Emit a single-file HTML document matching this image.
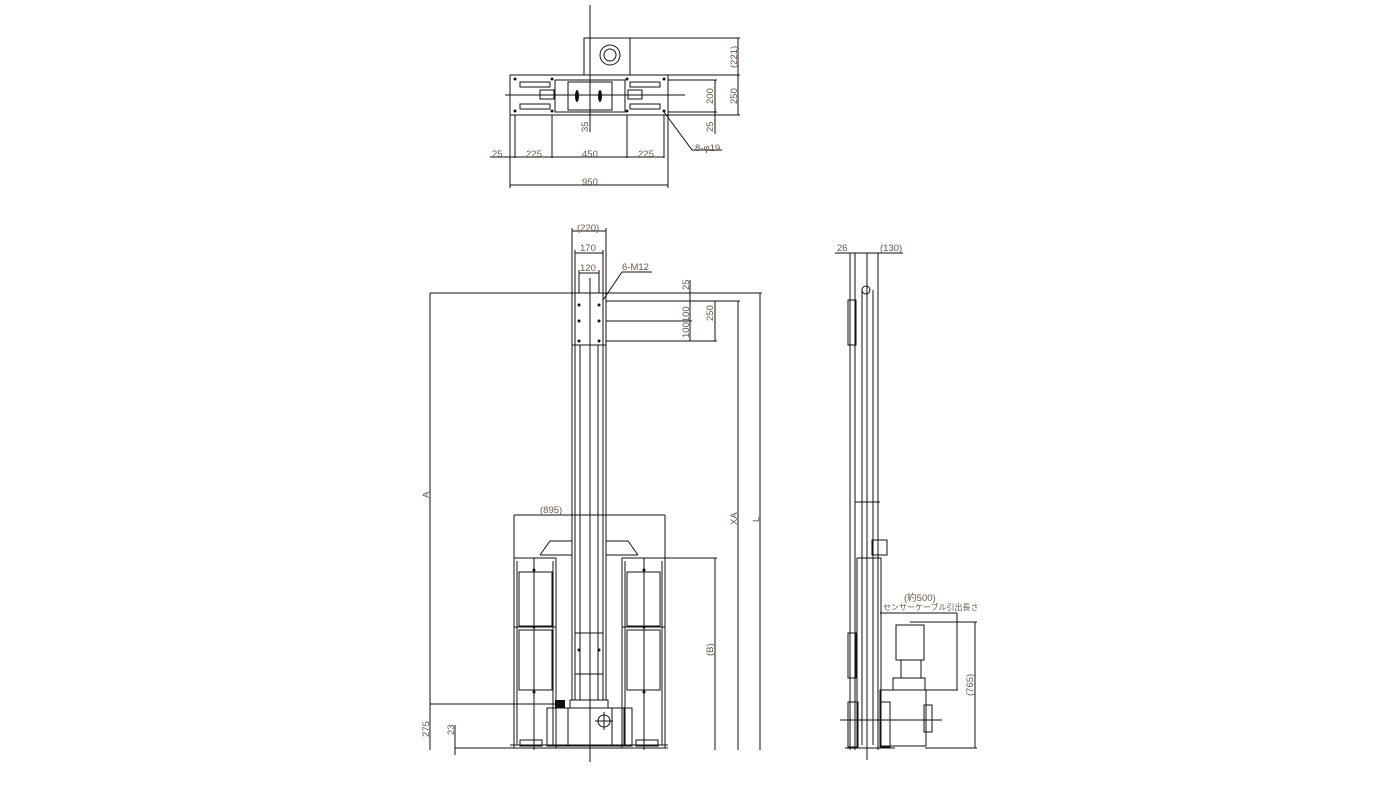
<!DOCTYPE html>
<html><head><meta charset="utf-8"><style>
html,body{margin:0;padding:0;background:#fff;}
svg{display:block}
text{font-family:"Liberation Sans","Noto Sans CJK JP",sans-serif;font-size:9.5px;fill:#6a5844}
</style></head><body>
<svg width="1400" height="800" viewBox="0 0 1400 800" xmlns="http://www.w3.org/2000/svg">
<g stroke="#111" stroke-width="1" fill="none">
<!-- ===== TOP VIEW ===== -->
<line x1="590" y1="5" x2="590" y2="132"/>
<line x1="505" y1="95" x2="685" y2="95"/>
<rect x="510" y="75" width="158" height="40"/>
<rect x="590" y="38" width="40" height="37"/>
<rect x="584" y="38" width="6" height="37"/>
<circle cx="610" cy="55" r="10"/>
<circle cx="610" cy="55" r="6"/>
<rect x="555" y="80" width="70" height="32"/>
<rect x="568" y="82" width="44" height="28"/>
<rect x="520" y="82" width="30" height="5"/>
<rect x="520" y="104" width="30" height="5"/>
<rect x="630" y="82" width="30" height="5"/>
<rect x="630" y="104" width="30" height="5"/>
<rect x="540" y="90" width="14" height="9"/>
<rect x="628" y="90" width="14" height="9"/>
<line x1="552" y1="115" x2="552" y2="158"/>
<line x1="627" y1="115" x2="627" y2="158"/>
<line x1="510" y1="115" x2="510" y2="188"/>
<line x1="668" y1="115" x2="668" y2="188"/>
<line x1="515" y1="115" x2="515" y2="158"/>
<line x1="664" y1="115" x2="664" y2="158"/>
<line x1="490" y1="157" x2="664" y2="157"/>
<line x1="510" y1="185" x2="668" y2="185"/>
<line x1="630" y1="38" x2="740" y2="38"/>
<line x1="668" y1="75" x2="740" y2="75"/>
<line x1="668" y1="80" x2="717" y2="80"/>
<line x1="668" y1="112" x2="717" y2="112"/>
<line x1="668" y1="115" x2="740" y2="115"/>
<line x1="715" y1="80" x2="715" y2="134"/>
<line x1="738" y1="38" x2="738" y2="115"/>
<polyline points="664,112 692,150 722,150"/>
<!-- ===== FRONT VIEW ===== -->
<line x1="590" y1="278" x2="590" y2="762"/>
<line x1="430" y1="293" x2="762" y2="293"/>
<line x1="430" y1="293" x2="430" y2="750"/>
<line x1="572" y1="228" x2="572" y2="700"/>
<line x1="606" y1="228" x2="606" y2="700"/>
<line x1="575" y1="250" x2="575" y2="700"/>
<line x1="603" y1="250" x2="603" y2="700"/>
<line x1="579" y1="270" x2="579" y2="293"/>
<line x1="599" y1="270" x2="599" y2="293"/>
<line x1="580" y1="345" x2="580" y2="700"/>
<line x1="598" y1="345" x2="598" y2="700"/>
<line x1="572" y1="231" x2="606" y2="231"/>
<line x1="575" y1="253" x2="603" y2="253"/>
<line x1="579" y1="273" x2="599" y2="273"/>
<rect x="572" y="293" width="34" height="52"/>
<line x1="606" y1="301" x2="717" y2="301"/>
<line x1="606" y1="321" x2="692" y2="321"/>
<line x1="606" y1="341" x2="717" y2="341"/>
<line x1="690" y1="280" x2="690" y2="341"/>
<line x1="715" y1="301" x2="715" y2="341"/>
<line x1="738" y1="301" x2="738" y2="750"/>
<line x1="760" y1="293" x2="760" y2="750"/>
<line x1="606" y1="301" x2="740" y2="301"/>
<polyline points="603,300 622,272 652,272"/>
<!-- lower frame -->
<line x1="514" y1="515" x2="665" y2="515"/>
<line x1="514" y1="515" x2="514" y2="558"/>
<line x1="665" y1="515" x2="665" y2="558"/>
<polyline points="540,555 550,541 572,541"/>
<polyline points="606,541 628,541 638,555"/>
<line x1="540" y1="555" x2="572" y2="555"/>
<line x1="606" y1="555" x2="638" y2="555"/>
<rect x="514" y="558" width="42" height="190"/>
<rect x="622" y="558" width="43" height="190"/>
<line x1="517" y1="561" x2="517" y2="745"/>
<line x1="553" y1="561" x2="553" y2="745"/>
<line x1="625" y1="561" x2="625" y2="745"/>
<line x1="662" y1="561" x2="662" y2="745"/>
<rect x="519" y="572" width="33" height="54"/>
<rect x="519" y="630" width="33" height="60"/>
<rect x="627" y="572" width="33" height="54"/>
<rect x="627" y="630" width="33" height="60"/>
<line x1="514" y1="627" x2="556" y2="627"/>
<line x1="622" y1="627" x2="665" y2="627"/>
<line x1="534" y1="558" x2="534" y2="750"/>
<line x1="644" y1="558" x2="644" y2="750"/>
<rect x="575" y="633" width="28" height="41"/>
<rect x="570" y="700" width="38" height="8"/>
<rect x="547" y="708" width="85" height="38"/>
<rect x="556" y="708" width="12" height="38"/>
<rect x="612" y="708" width="12" height="38"/>
<rect x="520" y="740" width="22" height="6"/>
<rect x="636" y="740" width="22" height="6"/>
<circle cx="604" cy="721" r="6"/>
<line x1="595" y1="721" x2="613" y2="721"/>
<line x1="604" y1="712" x2="604" y2="730"/>
<line x1="455" y1="748" x2="668" y2="748"/>
<line x1="510" y1="745" x2="668" y2="745"/>
<line x1="430" y1="704" x2="560" y2="704"/>
<line x1="455" y1="725" x2="455" y2="755"/>
<line x1="665" y1="558" x2="717" y2="558"/>
<line x1="715" y1="558" x2="715" y2="750"/>
<!-- ===== SIDE VIEW ===== -->
<line x1="835" y1="253" x2="903" y2="253"/>
<line x1="850" y1="253" x2="850" y2="750"/>
<line x1="855" y1="253" x2="855" y2="750"/>
<line x1="878" y1="253" x2="878" y2="750"/>
<line x1="867" y1="253" x2="867" y2="760"/>
<line x1="862" y1="290" x2="862" y2="745"/>
<line x1="873" y1="290" x2="873" y2="745"/>
<rect x="848" y="300" width="8" height="45"/>
<rect x="848" y="633" width="8" height="45"/>
<circle cx="866" cy="290" r="4"/>
<line x1="855" y1="502" x2="880" y2="502"/>
<rect x="872" y="540" width="15" height="15"/>
<rect x="857" y="558" width="24" height="190"/>
<line x1="880" y1="613" x2="957" y2="613"/>
<line x1="957" y1="613" x2="957" y2="690"/>
<rect x="896" y="625" width="28" height="35"/>
<rect x="901" y="660" width="20" height="18"/>
<rect x="893" y="678" width="32" height="12"/>
<rect x="880" y="690" width="46" height="56"/>
<rect x="924" y="705" width="8" height="27"/>
<rect x="848" y="702" width="10" height="45"/>
<rect x="880" y="702" width="10" height="45"/>
<line x1="845" y1="748" x2="895" y2="748"/>
<line x1="840" y1="720" x2="942" y2="720"/>
<line x1="880" y1="690" x2="958" y2="690"/>
<line x1="910" y1="622" x2="977" y2="622"/>
<line x1="925" y1="748" x2="977" y2="748"/>
<line x1="975" y1="622" x2="975" y2="748"/>
</g>
<!-- bolt marks -->
<g fill="#111">
<circle cx="515" cy="79" r="1.5"/><circle cx="515" cy="111" r="1.5"/><circle cx="664" cy="79" r="1.5"/><circle cx="664" cy="111" r="1.5"/>
<circle cx="552" cy="79" r="1.5"/><circle cx="552" cy="111" r="1.5"/><circle cx="627" cy="79" r="1.5"/><circle cx="627" cy="111" r="1.5"/>
<ellipse cx="577" cy="96" rx="2" ry="6"/><ellipse cx="600" cy="96" rx="2" ry="6"/>
<circle cx="579" cy="305" r="1.5"/><circle cx="599" cy="305" r="1.5"/><circle cx="579" cy="321" r="1.5"/><circle cx="599" cy="321" r="1.5"/><circle cx="579" cy="341" r="1.5"/><circle cx="599" cy="341" r="1.5"/>
<circle cx="579" cy="650" r="1.5"/><circle cx="599" cy="650" r="1.5"/>
<circle cx="534" cy="570" r="1.5"/><circle cx="534" cy="627" r="1.5"/><circle cx="534" cy="692" r="1.5"/><circle cx="644" cy="570" r="1.5"/><circle cx="644" cy="627" r="1.5"/><circle cx="644" cy="692" r="1.5"/>
<rect x="555" y="700" width="10" height="8"/>
</g>
<!-- text -->
<text x="492" y="157">25</text>
<text x="526" y="157">225</text>
<text x="582" y="157">450</text>
<text x="638" y="157">225</text>
<text x="582" y="185">950</text>
<text x="695" y="151">8-φ19</text>
<text transform="translate(713,104) rotate(-90)">200</text>
<text transform="translate(737,104) rotate(-90)">250</text>
<text transform="translate(713,132) rotate(-90)">25</text>
<text transform="translate(737,68) rotate(-90)">(221)</text>
<text transform="translate(588,132) rotate(-90)">35</text>
<text x="577" y="231">(220)</text>
<text x="580" y="251">170</text>
<text x="580" y="271">120</text>
<text x="622" y="270">6-M12</text>
<text transform="translate(689,290) rotate(-90)">25</text>
<text transform="translate(689,338) rotate(-90)">100100</text>
<text transform="translate(713,321) rotate(-90)">250</text>
<text transform="translate(429,498) rotate(-90)">A</text>
<text transform="translate(737,525) rotate(-90)">XA</text>
<text transform="translate(759,522) rotate(-90)">L</text>
<text x="540" y="513">(895)</text>
<text transform="translate(713,656) rotate(-90)">(B)</text>
<text transform="translate(429,737) rotate(-90)">275</text>
<text transform="translate(454,735) rotate(-90)">23</text>
<text x="837" y="251">26</text>
<text x="880" y="251">(130)</text>
<text x="904" y="601">(約500)</text>
<text x="883" y="610" style="font-size:8px">センサーケーブル引出長さ</text>
<text transform="translate(973,696) rotate(-90)">(765)</text>
</svg>
</body></html>
